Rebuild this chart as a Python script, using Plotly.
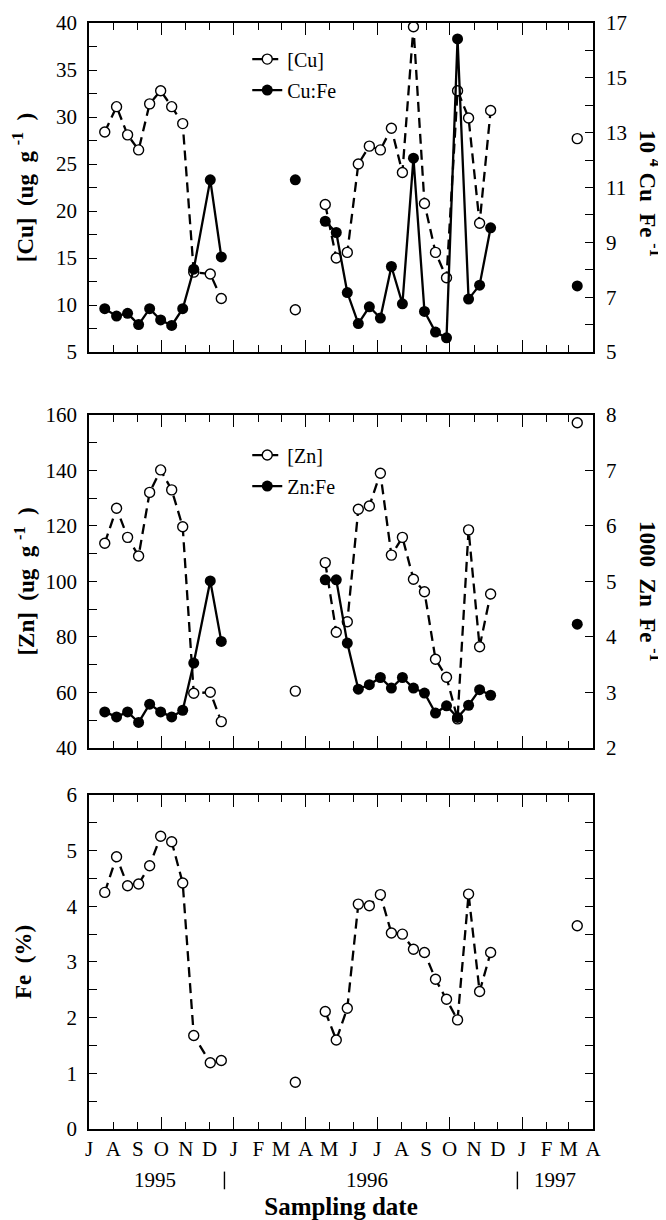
import plotly.graph_objects as go

# ---------------- data ----------------
sampling_dates = [
    "1995-07-21", "1995-08-05", "1995-08-19", "1995-09-02", "1995-09-16", "1995-09-30",
    "1995-10-14", "1995-10-28", "1995-11-11", "1995-12-02", "1995-12-16",
    "1996-03-19",
    "1996-04-26", "1996-05-10", "1996-05-24", "1996-06-07", "1996-06-21", "1996-07-05",
    "1996-07-19", "1996-08-02", "1996-08-16", "1996-08-30", "1996-09-13", "1996-09-27",
    "1996-10-11", "1996-10-25", "1996-11-08", "1996-11-22",
    "1997-03-12",
]
# sampling campaign of each date (lines are not drawn across campaigns)
campaign = [1] * 11 + [2] + [3] * 16 + [4]

cu_ug_g = [28.4, 31.1, 28.1, 26.5, 31.4, 32.8, 31.1, 29.3, 13.5, 13.3, 10.7,
           9.5,
           20.7, 15.0, 15.6, 25.0, 26.9, 26.5, 28.8, 24.1, 39.6, 20.8, 15.6, 12.9,
           32.8, 29.9, 18.7, 30.7,
           27.7]
cu_fe_1e4 = [6.58, 6.31, 6.41, 6.00, 6.58, 6.17, 5.97, 6.58, 8.02, 11.28, 8.47,
             11.28,
             9.77, 9.36, 7.17, 6.04, 6.65, 6.24, 8.12, 6.76, 12.07, 6.48, 5.73, 5.52,
             16.42, 6.93, 7.44, 9.53,
             7.41]
zn_ug_g = [113.8, 126.4, 115.9, 109.2, 132.1, 140.2, 133.0, 119.7, 59.7, 60.1, 49.5,
           60.5,
           106.8, 81.7, 85.5, 126.0, 127.2, 139.0, 109.5, 115.9, 100.8, 96.3, 72.0, 65.5,
           50.5, 118.6, 76.5, 95.5,
           157.2]
zn_fe_1e3 = [2.65, 2.56, 2.65, 2.46, 2.79, 2.65, 2.56, 2.68, 3.53, 5.01, 3.92,
             None,
             5.03, 5.03, 3.89, 3.06, 3.14, 3.27, 3.08, 3.27, 3.08, 2.99, 2.63, 2.76,
             2.55, 2.77, 3.05, 2.95,
             4.23]
fe_pct = [4.25, 4.89, 4.37, 4.40, 4.73, 5.26, 5.16, 4.42, 1.68, 1.19, 1.23,
          0.84,
          2.11, 1.60, 2.17, 4.04, 4.01, 4.21, 3.52, 3.50, 3.23, 3.17, 2.69, 2.33,
          1.96, 4.22, 2.47, 3.17,
          3.65]

month_ticks = ["1995-07-01", "1995-08-01", "1995-09-01", "1995-10-01", "1995-11-01",
               "1995-12-01", "1996-01-01", "1996-02-01", "1996-03-01", "1996-04-01",
               "1996-05-01", "1996-06-01", "1996-07-01", "1996-08-01", "1996-09-01",
               "1996-10-01", "1996-11-01", "1996-12-01", "1997-01-01", "1997-02-01",
               "1997-03-01", "1997-04-01"]
month_letters = ["J", "A", "S", "O", "N", "D", "J", "F", "M", "A", "M", "J",
                 "J", "A", "S", "O", "N", "D", "J", "F", "M", "A"]
year_labels = ["1995", "1996", "1997"]
year_label_dates = ["1995-09-23", "1996-06-18", "1997-02-12"]
year_break_dates = ["1995-12-20", "1996-12-26"]

# ---------------- helpers ----------------
def broken(xs, ys, groups):
    X, Y, prev = [], [], None
    for x, y, g in zip(xs, ys, groups):
        if prev is not None and g != prev:
            X.append(None)
            Y.append(None)
        X.append(x)
        Y.append(y)
        prev = g
    return X, Y

FONT = "Liberation Serif, Times New Roman, serif"
SP = "\u00a0"
DASH = "10px,6px"
LW = 2.3

def open_trace(y, name, xa, ya, legend, show=True):
    X, Y = broken(sampling_dates, y, campaign)
    return go.Scatter(x=X, y=Y, name=name, xaxis=xa, yaxis=ya, mode="lines+markers",
                      line=dict(color="black", width=LW, dash=DASH),
                      marker=dict(symbol="circle", size=10, color="white",
                                  line=dict(color="black", width=1.4)),
                      legend=legend, legendgroup=name, showlegend=show, cliponaxis=False)

def filled_trace(y, name, xa, ya, legend):
    X, Y = broken(sampling_dates, y, campaign)
    return go.Scatter(x=X, y=Y, name=name, xaxis=xa, yaxis=ya, mode="lines+markers",
                      line=dict(color="black", width=LW),
                      marker=dict(symbol="circle", size=11, color="black"),
                      legend=legend, legendgroup=name, cliponaxis=False)

fig = go.Figure()
fig.add_trace(open_trace(cu_ug_g, "[Cu]", "x", "y", "legend"))
fig.add_trace(filled_trace(cu_fe_1e4, "Cu:Fe", "x", "y4", "legend"))
fig.add_trace(open_trace(zn_ug_g, "[Zn]", "x2", "y2", "legend2"))
fig.add_trace(filled_trace(zn_fe_1e3, "Zn:Fe", "x2", "y5", "legend2"))
fig.add_trace(open_trace(fe_pct, "Fe", "x3", "y3", "legend", show=False))
# empty trace so that the month-letter axis (overlaying the bottom x axis) is drawn
fig.add_trace(go.Scatter(x=[None], y=[None], xaxis="x6", yaxis="y3", mode="markers",
                         marker=dict(color="black"), showlegend=False, hoverinfo="skip"))

X_RANGE = ["1995-07-01", "1997-04-01"]
TICKFONT = dict(family=FONT, size=21, color="black")
TITLEFONT = dict(family=FONT, size=23, color="black", weight="bold")

def xcfg(anchor):
    return dict(type="date", range=X_RANGE, anchor=anchor, tick0="1995-07-01", dtick="M3",
                ticks="inside", ticklen=12, tickwidth=1.3, tickcolor="black",
                minor=dict(dtick="M1", tick0="1995-07-01", ticks="inside", ticklen=7,
                           tickwidth=1.3, tickcolor="black"),
                showline=True, linecolor="black", linewidth=1.5, mirror="ticks",
                showticklabels=False, showgrid=False, zeroline=False, automargin=False)

def ycfg(domain, anchor, rng, dtick, minor, title, standoff, mirror=False):
    return dict(domain=domain, anchor=anchor, range=rng, dtick=dtick, tick0=0,
                ticks="inside", ticklen=8, tickwidth=1.3, tickcolor="black",
                minor=dict(dtick=minor, ticks="inside", ticklen=8, tickwidth=1.3,
                           tickcolor="black"),
                showline=True, linecolor="black", linewidth=1.5, mirror=mirror,
                showgrid=False, zeroline=False, tickfont=TICKFONT, ticklabelstandoff=6,
                automargin=False,
                title=dict(text=title, font=TITLEFONT, standoff=standoff))

def yrcfg(overlay, anchor, rng, dtick, tick0, minor):
    d = dict(overlaying=overlay, side="right", anchor=anchor, range=rng, dtick=dtick,
             tick0=tick0, ticks="inside", ticklen=8, tickwidth=1.3, tickcolor="black",
             showline=True, linecolor="black", linewidth=1.5, showgrid=False,
             zeroline=False, tickfont=TICKFONT, ticklabelstandoff=7, automargin=False)
    if minor:
        d["minor"] = dict(dtick=minor, ticks="inside", ticklen=8, tickwidth=1.3,
                          tickcolor="black")
    return d

D_TOP = [0.7025, 1.0]
D_MID = [0.3445, 0.6456]
D_BOT = [0.0, 0.3020]

cu_title = f"[Cu]{SP*2}(ug{SP*2}g{SP}<sup>-1</sup>{SP*2})"
zn_title = f"[Zn]{SP*2}(ug{SP*2}g{SP}<sup>-1</sup>{SP*2})"
fe_title = f"Fe{SP*2}(%)"

# the page body adds an 8 px offset, so the figure is 8 px smaller and margins shifted
fig.update_layout(
    width=658, height=1212,
    margin=dict(l=81, r=73, t=15, b=91, autoexpand=False),
    paper_bgcolor="white", plot_bgcolor="white",
    font=dict(family=FONT, color="black"),
    xaxis=xcfg("y"), xaxis2=xcfg("y2"), xaxis3=xcfg("y3"),
    xaxis6=dict(type="date", range=X_RANGE, overlaying="x3", anchor="y3", side="bottom",
                tickmode="array", tickvals=month_ticks, ticktext=month_letters,
                ticks="", showline=False, showgrid=False, zeroline=False,
                tickfont=TICKFONT, ticklabelstandoff=5, automargin=False,
                title=dict(text="Sampling date", font=dict(family=FONT, size=25,
                                                           color="black", weight="bold"),
                           standoff=39)),
    yaxis=ycfg(D_TOP, "x", [5, 40], 5, 2.5, cu_title, 16),
    yaxis2=ycfg(D_MID, "x2", [40, 160], 20, 10, zn_title, 4),
    yaxis3=ycfg(D_BOT, "x3", [0, 6], 1, 0.5, fe_title, 28, mirror="ticks"),
    yaxis4=yrcfg("y", "x", [5, 17], 2, 5, 1),
    yaxis5=yrcfg("y2", "x2", [2, 8], 1, 2, None),
    legend=dict(x=0.314, y=0.985, xanchor="left", yanchor="top", bgcolor="rgba(0,0,0,0)",
                font=dict(family=FONT, size=20, color="black"), traceorder="grouped",
                tracegroupgap=2),
    legend2=dict(x=0.314, y=0.627, xanchor="left", yanchor="top", bgcolor="rgba(0,0,0,0)",
                 font=dict(family=FONT, size=20, color="black"), traceorder="grouped",
                 tracegroupgap=2),
    showlegend=True,
)

# right-hand axis titles (read top-to-bottom as in the original)
fig.add_annotation(text=f"10{SP}<sup>4</sup>{SP}Cu{SP*2}Fe{SP}<sup>-1</sup>",
                   xref="paper", yref="paper", x=1.112, y=0.846,
                   xanchor="center", yanchor="middle", textangle=90, showarrow=False,
                   font=dict(family=FONT, size=23, color="black", weight="bold"))
fig.add_annotation(text=f"1000{SP*2}Zn{SP*2}Fe{SP}<sup>-1</sup>",
                   xref="paper", yref="paper", x=1.112, y=0.486,
                   xanchor="center", yanchor="middle", textangle=90, showarrow=False,
                   font=dict(family=FONT, size=23, color="black", weight="bold"))

# year labels under the month letters, with the year separators
for txt, d in zip(year_labels, year_label_dates):
    fig.add_annotation(text=txt, x=d, xref="x3", y=-0.0462, yref="paper",
                       xanchor="center", yanchor="middle", showarrow=False,
                       font=dict(family=FONT, size=21, color="black"))
for d in year_break_dates:
    fig.add_shape(type="line", xref="x3", yref="paper", x0=d, x1=d,
                  y0=-0.0545, y1=-0.0385, line=dict(color="black", width=1.4))

fig.write_html("out.html")
